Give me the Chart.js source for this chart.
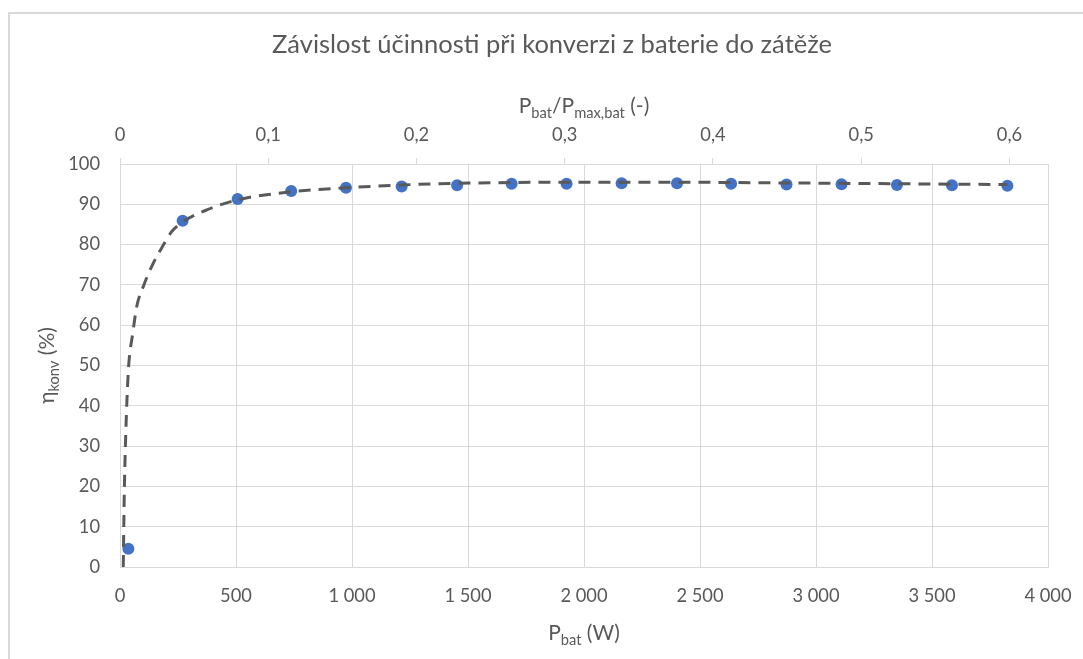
<!DOCTYPE html>
<html lang="cs">
<head>
<meta charset="utf-8">
<title>Závislost účinnosti při konverzi z baterie do zátěže</title>
<script src="https://cdn.jsdelivr.net/npm/chart.js@4.4.1/dist/chart.umd.min.js"></script>
<style>
  html, body { margin: 0; padding: 0; background: #fff; }
</style>
</head>
<body>
<canvas id="myChart" width="1083" height="659"></canvas>
<script>
// measured points (P_bat in W, efficiency in %)
const powerW = [36, 270, 507, 738, 974, 1214, 1453, 1688, 1925, 2162, 2401, 2634, 2873, 3110, 3349, 3586, 3825];
const etaKonv = [4.5, 85.9, 91.3, 93.3, 94.1, 94.4, 94.7, 95.1, 95.1, 95.2, 95.25, 95.1, 94.9, 95.0, 94.8, 94.75, 94.6];

// dashed trend line
const trendW = [14, 16, 18, 21, 25, 30, 37, 55, 72, 103, 141, 182, 224, 270, 374, 507, 738, 974, 1214, 1453, 1688, 1925, 2162, 2401, 2634, 2873, 3110, 3349, 3586, 3825];
const trendEta = [0, 8.5, 16.8, 25, 33.3, 41.5, 49.7, 58, 64.6, 70, 75.1, 79.4, 83.3, 85.6, 88.6, 91.1, 93.1, 94.1, 94.8, 95.2, 95.4, 95.5, 95.5, 95.5, 95.4, 95.3, 95.2, 95.1, 95.0, 94.9];

// tick labels
const powerTicks = [0, 500, 1000, 1500, 2000, 2500, 3000, 3500, 4000];
const powerTickLabels = ['0', '500', '1 000', '1 500', '2 000', '2 500', '3 000', '3 500', '4 000'];
const ratioTicks = [0, 0.1, 0.2, 0.3, 0.4, 0.5, 0.6];
const ratioTickLabels = ['0', '0,1', '0,2', '0,3', '0,4', '0,5', '0,6'];
const etaTicks = [0, 10, 20, 30, 40, 50, 60, 70, 80, 90, 100];

const FONT = 'Lato';
const TEXT = '#595959';
const GRID = '#d9d9d9';

// draws a string made of normal and subscript parts, centred on x
function drawRich(ctx, parts, x, y, size) {
  const subSize = size * 0.7;
  let w = 0;
  parts.forEach(([t, sub]) => {
    ctx.font = (sub ? subSize : size) + 'px ' + FONT;
    w += ctx.measureText(t).width;
  });
  let cx = x - w / 2;
  ctx.textAlign = 'left';
  ctx.textBaseline = 'alphabetic';
  parts.forEach(([t, sub]) => {
    ctx.font = (sub ? subSize : size) + 'px ' + FONT;
    ctx.fillText(t, cx, sub ? y + size * 0.22 : y);
    cx += ctx.measureText(t).width;
  });
}

const decorations = {
  id: 'decorations',
  beforeDraw(chart) {
    const ctx = chart.ctx;
    ctx.save();
    // outer chart frame
    ctx.fillStyle = GRID;
    ctx.fillRect(8, 12, 1200, 2);
    ctx.fillRect(8, 12, 2, 800);
    ctx.restore();
  },
  afterDraw(chart) {
    const ctx = chart.ctx;
    const area = chart.chartArea;
    const midX = (area.left + area.right) / 2;
    const midY = (area.top + area.bottom) / 2;
    ctx.save();
    ctx.fillStyle = TEXT;

    // main title
    ctx.font = '25.5px ' + FONT;
    ctx.textAlign = 'center';
    ctx.textBaseline = 'alphabetic';
    ctx.fillText('Závislost účinnosti při konverzi z baterie do zátěže', 552, 53);

    // top axis title
    drawRich(ctx, [['P', false], ['bat', true], ['/P', false], ['max,bat', true], [' (-)', false]], midX, 113, 21);

    // bottom axis title
    drawRich(ctx, [['P', false], ['bat', true], [' (W)', false]], midX, 640, 21);

    // y axis title, rotated
    ctx.translate(54, midY);
    ctx.rotate(-Math.PI / 2);
    drawRich(ctx, [['η', false], ['konv', true], [' (%)', false]], 0, 0, 21);
    ctx.restore();
  }
};

const tickFont = { family: FONT, size: 18.3 };

const config = {
  type: 'scatter',
  data: {
    datasets: [
      {
        label: 'trend',
        data: trendW.map((w, i) => ({ x: w, y: trendEta[i] })),
        showLine: true,
        borderColor: '#595959',
        borderWidth: 3,
        borderDash: [12, 8],
        borderCapStyle: 'butt',
        pointRadius: 0,
        cubicInterpolationMode: 'monotone',
        xAxisID: 'x',
        yAxisID: 'y',
        order: 0
      },
      {
        label: 'η',
        data: powerW.map((w, i) => ({ x: w, y: etaKonv[i] })),
        showLine: false,
        backgroundColor: '#4472C4',
        borderColor: '#4472C4',
        borderWidth: 0,
        pointRadius: 6,
        xAxisID: 'x',
        yAxisID: 'y',
        order: 1
      }
    ]
  },
  options: {
    responsive: false,
    animation: false,
    layout: { padding: { left: 0, right: 35, top: 0, bottom: 0 } },
    plugins: {
      legend: { display: false },
      tooltip: { enabled: false },
      title: { display: false }
    },
    scales: {
      x: {
        type: 'linear',
        position: 'bottom',
        min: 0,
        max: 4000,
        afterBuildTicks: s => { s.ticks = powerTicks.map(v => ({ value: v })); },
        ticks: {
          callback: (v, i) => powerTickLabels[i],
          font: tickFont,
          color: TEXT,
          padding: 18,
          maxRotation: 0,
          autoSkip: false
        },
        grid: { color: GRID, drawTicks: false },
        border: { color: GRID },
        afterFit: s => { s.height = 92; s.paddingLeft = 0; s.paddingRight = 0; }
      },
      x2: {
        type: 'linear',
        position: 'top',
        min: 0,
        max: 0.626,
        afterBuildTicks: s => { s.ticks = ratioTicks.map(v => ({ value: v })); },
        ticks: {
          callback: (v, i) => ratioTickLabels[i],
          font: tickFont,
          color: TEXT,
          padding: 12,
          maxRotation: 0,
          autoSkip: false
        },
        grid: { color: GRID, drawOnChartArea: false, drawTicks: true, tickLength: 6 },
        border: { color: GRID },
        afterFit: s => { s.height = 164; s.paddingLeft = 0; s.paddingRight = 0; }
      },
      y: {
        type: 'linear',
        position: 'left',
        min: 0,
        max: 100,
        afterBuildTicks: s => { s.ticks = etaTicks.map(v => ({ value: v })); },
        ticks: {
          font: tickFont,
          color: TEXT,
          padding: 20
        },
        grid: { color: GRID, drawTicks: false },
        border: { color: GRID },
        afterFit: s => { s.width = 120; s.paddingTop = 0; s.paddingBottom = 0; }
      }
    }
  },
  plugins: [decorations]
};

const myChart = document.getElementById('myChart').getContext('2d');
// eslint-disable-next-line no-undef
new Chart(myChart, config);
</script>
</body>
</html>
